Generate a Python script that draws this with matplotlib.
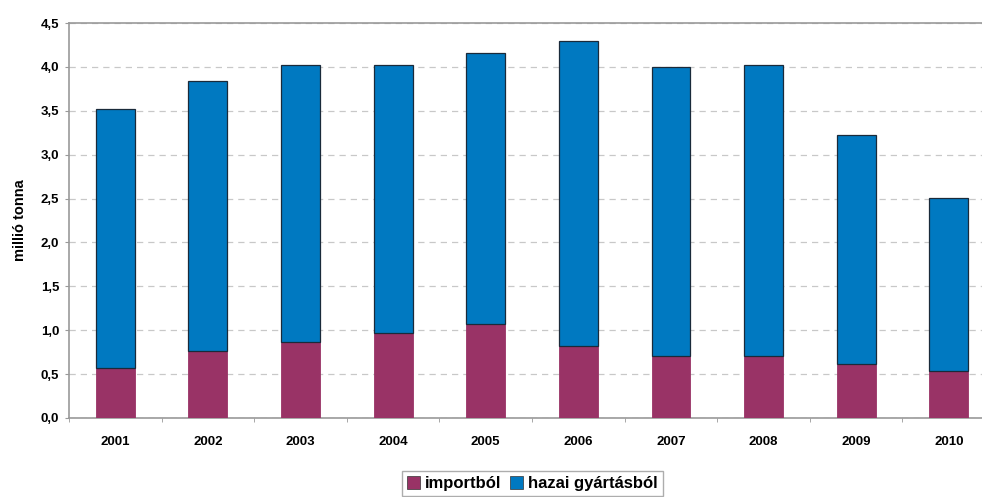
import numpy as np
import matplotlib.pyplot as plt
from matplotlib.ticker import FuncFormatter, MultipleLocator, FixedLocator
from matplotlib.patches import Patch

# --- data (millió tonna) ---
years = ['2001', '2002', '2003', '2004', '2005', '2006', '2007', '2008', '2009', '2010']
total = [3.52, 3.84, 4.02, 4.02, 4.16, 4.30, 4.00, 4.02, 3.22, 2.51]
importbol = [0.57, 0.76, 0.87, 0.97, 1.07, 0.82, 0.71, 0.71, 0.61, 0.53]
hazai = [t - i for t, i in zip(total, importbol)]

C_IMPORT = '#993366'
C_HAZAI = '#0079C1'

plt.rcParams['font.family'] = ['Liberation Sans', 'DejaVu Sans']
plt.rcParams['font.weight'] = 'bold'

fig = plt.figure(figsize=(9.82, 4.97), dpi=100)
ax = fig.add_axes([0.0703, 0.159, 0.943, 0.7947])

x = np.arange(len(years))
w = 0.42
ax.bar(x, importbol, w, color=C_IMPORT, edgecolor=C_IMPORT, lw=0.6, zorder=3)
ax.bar(x, hazai, w, bottom=importbol, color=C_HAZAI, edgecolor='#1a2a3a', lw=0.9, zorder=3)

ax.set_xlim(-0.5, len(years) - 0.5)
ax.set_ylim(0, 4.5)
ax.yaxis.set_major_locator(MultipleLocator(0.5))
ax.yaxis.set_major_formatter(FuncFormatter(lambda v, p: f"{v:.1f}".replace('.', ',')))
ax.set_xticks(x)
ax.set_xticklabels(years)
ax.xaxis.set_minor_locator(FixedLocator(np.arange(-0.5, len(years), 1.0)))
ax.tick_params(axis='x', which='major', length=0, pad=13, labelsize=9.5)
ax.tick_params(axis='x', which='minor', length=3, color='#999999')
ax.tick_params(axis='y', length=3, color='#999999', labelsize=9.5, pad=4)

ax.grid(axis='y', color='#c8c8c8', ls=(0, (5, 4)), lw=0.9, zorder=0)
for s in ['left', 'bottom', 'top']:
    ax.spines[s].set_color('#999999')
    ax.spines[s].set_linewidth(1.2)
ax.spines['right'].set_visible(False)

ax.set_ylabel('millió tonna', fontsize=10.5, fontweight='bold', labelpad=10)

handles = [Patch(facecolor=C_IMPORT, edgecolor='#333333', lw=0.5),
           Patch(facecolor=C_HAZAI, edgecolor='#333333', lw=0.5)]
leg = fig.legend(handles, ['importból', 'hazai gyártásból'], ncol=2,
                 loc='upper center', bbox_to_anchor=(0.542, 0.052),
                 borderaxespad=0, fontsize=12, frameon=True, fancybox=False,
                 handlelength=0.8, handleheight=0.8, handletextpad=0.3,
                 columnspacing=0.5, borderpad=0.3)
leg.get_frame().set_edgecolor('#999999')
leg.get_frame().set_linewidth(1.0)

fig.savefig('out.png', dpi=100)
